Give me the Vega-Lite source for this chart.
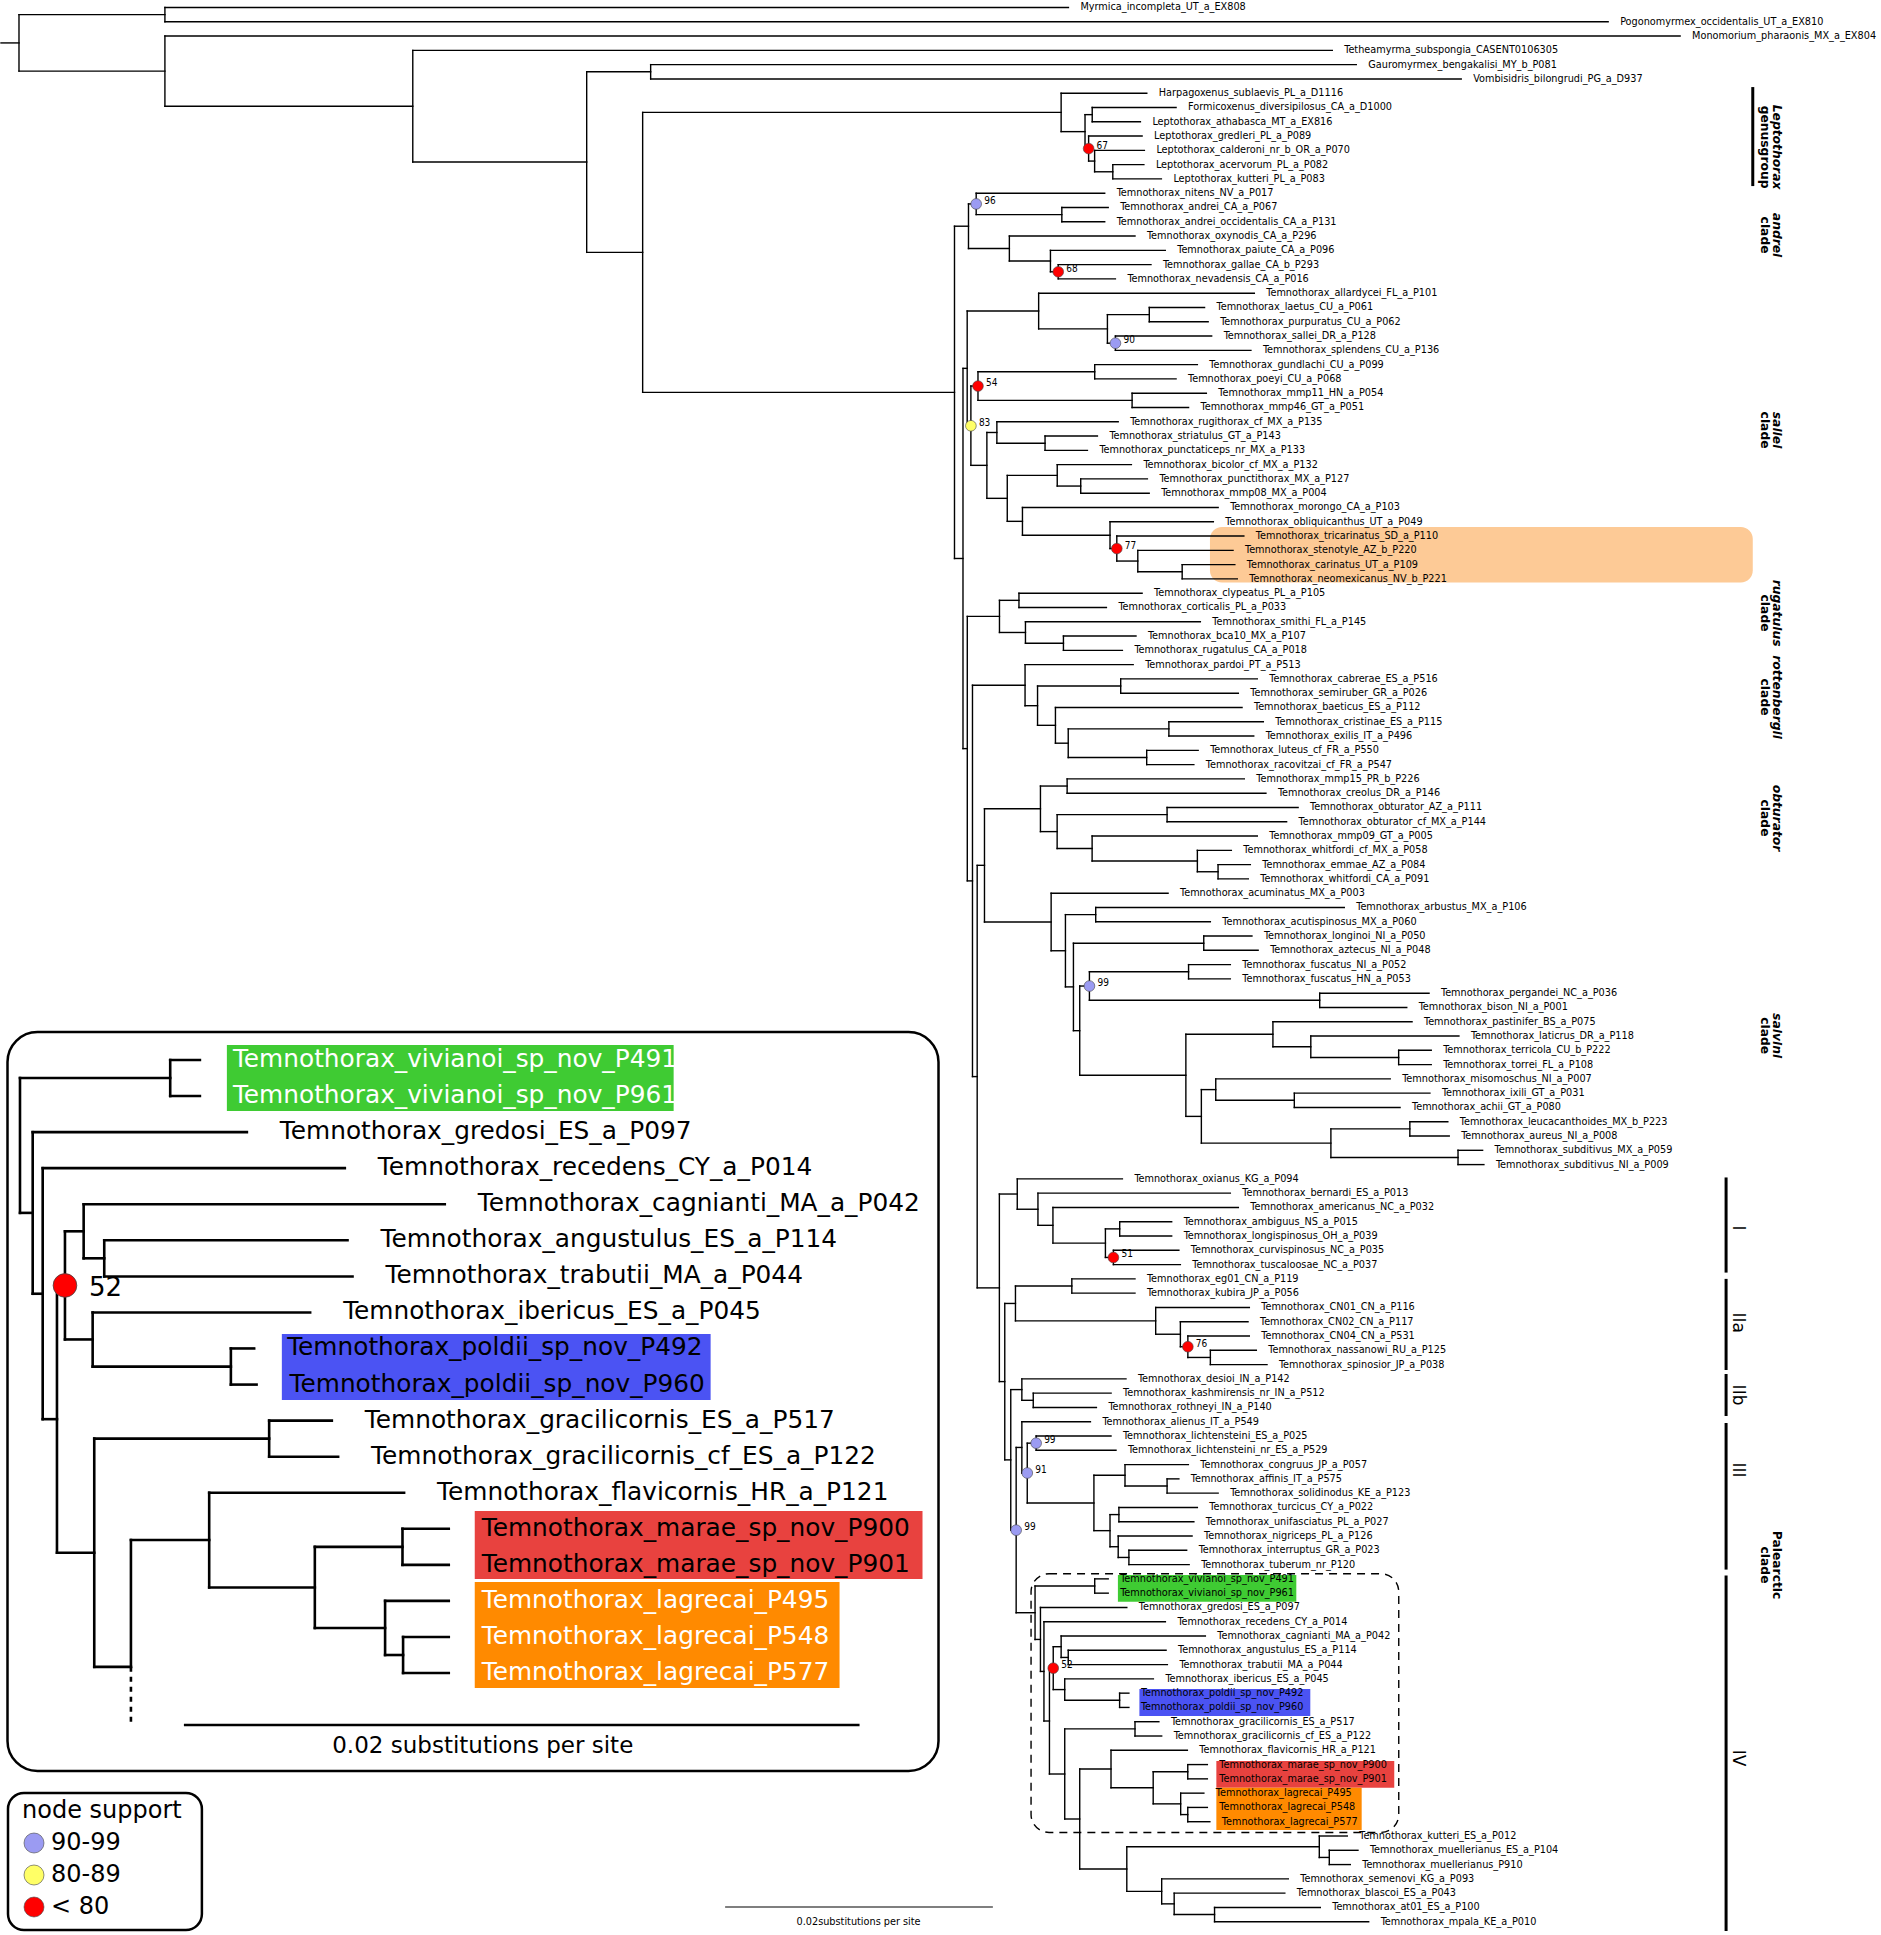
{
"$schema":"https://vega.github.io/schema/vega-lite/v6.json",
"width":1881,"height":1935,
"autosize":{"type":"fit","contains":"padding"},
"padding":0,
"background":"white",
"config":{"view":{"stroke":null}},
"datasets":{
"tree":[
{"x":18,"px":0,"y":2.48,"ya":0.5,"yb":4.455},
{"x":164,"px":18,"y":0.5,"ya":0,"yb":1},
{"x":164,"px":18,"y":4.455,"ya":2,"yb":6.91},
{"x":412,"px":164,"y":6.91,"ya":3,"yb":10.82},
{"x":586,"px":412,"y":10.82,"ya":4.5,"yb":17.14},
{"x":650,"px":586,"y":4.5,"ya":4,"yb":5},
{"x":642,"px":586,"y":17.14,"ya":7.34,"yb":26.94},
{"x":1060.7,"px":642,"y":7.34,"ya":6,"yb":8.69},
{"x":1084.6,"px":1060.7,"y":8.69,"ya":7.5,"yb":9.875},
{"x":1091.8,"px":1084.6,"y":7.5,"ya":7,"yb":8},
{"x":1088.2,"px":1084.6,"y":9.875,"ya":9,"yb":10.75},
{"x":1094.2,"px":1088.2,"y":10.75,"ya":10,"yb":11.5},
{"x":1112.4,"px":1094.2,"y":11.5,"ya":11,"yb":12},
{"x":954,"px":642,"y":26.94,"ya":15.31,"yb":38.57},
{"x":968,"px":954,"y":15.31,"ya":13.75,"yb":16.875},
{"x":975.7,"px":968,"y":13.75,"ya":13,"yb":14.5},
{"x":1061.4,"px":975.7,"y":14.5,"ya":14,"yb":15},
{"x":1008.9,"px":968,"y":16.875,"ya":16,"yb":17.75},
{"x":1050,"px":1008.9,"y":17.75,"ya":17,"yb":18.5},
{"x":1057.8,"px":1050,"y":18.5,"ya":18,"yb":19},
{"x":962.5,"px":954,"y":38.57,"ya":25.26,"yb":51.88},
{"x":966.7,"px":962.5,"y":25.26,"ya":21.25,"yb":29.28},
{"x":1038.2,"px":966.7,"y":21.25,"ya":20,"yb":22.5},
{"x":1107,"px":1038.2,"y":22.5,"ya":21.5,"yb":23.5},
{"x":1148.9,"px":1107,"y":21.5,"ya":21,"yb":22},
{"x":1115,"px":1107,"y":23.5,"ya":23,"yb":24},
{"x":970.4,"px":966.7,"y":29.28,"ya":26.5,"yb":32.05},
{"x":977.5,"px":970.4,"y":26.5,"ya":25.5,"yb":27.5},
{"x":1094.3,"px":977.5,"y":25.5,"ya":25,"yb":26},
{"x":1131.7,"px":977.5,"y":27.5,"ya":27,"yb":28},
{"x":986.4,"px":970.4,"y":32.05,"ya":29.75,"yb":34.36},
{"x":996.4,"px":986.4,"y":29.75,"ya":29,"yb":30.5},
{"x":1044.6,"px":996.4,"y":30.5,"ya":30,"yb":31},
{"x":1006.8,"px":986.4,"y":34.36,"ya":32.75,"yb":35.97},
{"x":1056.8,"px":1006.8,"y":32.75,"ya":32,"yb":33.5},
{"x":1080.3,"px":1056.8,"y":33.5,"ya":33,"yb":34},
{"x":1022,"px":1006.8,"y":35.97,"ya":35,"yb":36.94},
{"x":1109.6,"px":1022,"y":36.94,"ya":36,"yb":37.875},
{"x":1116.4,"px":1109.6,"y":37.875,"ya":37,"yb":38.75},
{"x":1137.4,"px":1116.4,"y":38.75,"ya":38,"yb":39.5},
{"x":1181.8,"px":1137.4,"y":39.5,"ya":39,"yb":40},
{"x":966.8,"px":962.5,"y":51.88,"ya":42.625,"yb":61.14},
{"x":999,"px":966.8,"y":42.625,"ya":41.5,"yb":43.75},
{"x":1018.5,"px":999,"y":41.5,"ya":41,"yb":42},
{"x":1025,"px":999,"y":43.75,"ya":43,"yb":44.5},
{"x":1063,"px":1025,"y":44.5,"ya":44,"yb":45},
{"x":972,"px":966.8,"y":61.14,"ya":47.44,"yb":74.84},
{"x":1024.6,"px":972,"y":47.44,"ya":46,"yb":48.875},
{"x":1037.1,"px":1024.6,"y":48.875,"ya":47.5,"yb":50.25},
{"x":1120.3,"px":1037.1,"y":47.5,"ya":47,"yb":48},
{"x":1055,"px":1037.1,"y":50.25,"ya":49,"yb":51.5},
{"x":1067.8,"px":1055,"y":51.5,"ya":50.5,"yb":52.5},
{"x":1168.5,"px":1067.8,"y":50.5,"ya":50,"yb":51},
{"x":1146.3,"px":1067.8,"y":52.5,"ya":52,"yb":53},
{"x":976.7,"px":972,"y":74.84,"ya":60.05,"yb":89.63},
{"x":984,"px":976.7,"y":60.05,"ya":56.09,"yb":64.02},
{"x":1040,"px":984,"y":56.09,"ya":54.5,"yb":57.69},
{"x":1066.7,"px":1040,"y":54.5,"ya":54,"yb":55},
{"x":1056.7,"px":1040,"y":57.69,"ya":56.5,"yb":58.875},
{"x":1166.7,"px":1056.7,"y":56.5,"ya":56,"yb":57},
{"x":1091.7,"px":1056.7,"y":58.875,"ya":58,"yb":59.75},
{"x":1197,"px":1091.7,"y":59.75,"ya":59,"yb":60.5},
{"x":1217.7,"px":1197,"y":60.5,"ya":60,"yb":61},
{"x":1050.7,"px":984,"y":64.02,"ya":62,"yb":66.03},
{"x":1065,"px":1050.7,"y":66.03,"ya":63.5,"yb":68.56},
{"x":1095.3,"px":1065,"y":63.5,"ya":63,"yb":64},
{"x":1073,"px":1065,"y":68.56,"ya":65.5,"yb":71.625},
{"x":1203.4,"px":1073,"y":65.5,"ya":65,"yb":66},
{"x":1079.3,"px":1073,"y":71.625,"ya":68.5,"yb":74.75},
{"x":1089,"px":1079.3,"y":68.5,"ya":67.5,"yb":69.5},
{"x":1188.2,"px":1089,"y":67.5,"ya":67,"yb":68},
{"x":1319.4,"px":1089,"y":69.5,"ya":69,"yb":70},
{"x":1185.5,"px":1079.3,"y":74.75,"ya":71.875,"yb":77.625},
{"x":1272.6,"px":1185.5,"y":71.875,"ya":71,"yb":72.75},
{"x":1310.5,"px":1272.6,"y":72.75,"ya":72,"yb":73.5},
{"x":1398.4,"px":1310.5,"y":73.5,"ya":73,"yb":74},
{"x":1201,"px":1185.5,"y":77.625,"ya":75.75,"yb":79.5},
{"x":1215.4,"px":1201,"y":75.75,"ya":75,"yb":76.5},
{"x":1294,"px":1215.4,"y":76.5,"ya":76,"yb":77},
{"x":1330.6,"px":1201,"y":79.5,"ya":78.5,"yb":80.5},
{"x":1409.6,"px":1330.6,"y":78.5,"ya":78,"yb":79},
{"x":1457.8,"px":1330.6,"y":80.5,"ya":80,"yb":81},
{"x":998.9,"px":976.7,"y":89.63,"ya":83.06,"yb":96.19},
{"x":1016.8,"px":998.9,"y":83.06,"ya":82,"yb":84.125},
{"x":1037.5,"px":1016.8,"y":84.125,"ya":83,"yb":85.25},
{"x":1052.5,"px":1037.5,"y":85.25,"ya":84,"yb":86.5},
{"x":1105,"px":1052.5,"y":86.5,"ya":85.5,"yb":87.5},
{"x":1119.3,"px":1105,"y":85.5,"ya":85,"yb":86},
{"x":1113,"px":1105,"y":87.5,"ya":87,"yb":88},
{"x":1004.3,"px":998.9,"y":96.19,"ya":90.72,"yb":101.67},
{"x":1015,"px":1004.3,"y":90.72,"ya":89.5,"yb":91.94},
{"x":1071.4,"px":1015,"y":89.5,"ya":89,"yb":90},
{"x":1155.3,"px":1015,"y":91.94,"ya":91,"yb":92.875},
{"x":1180,"px":1155.3,"y":92.875,"ya":92,"yb":93.75},
{"x":1187.5,"px":1180,"y":93.75,"ya":93,"yb":94.5},
{"x":1210,"px":1187.5,"y":94.5,"ya":94,"yb":95},
{"x":1010.3,"px":1004.3,"y":101.67,"ya":96.75,"yb":106.59},
{"x":1021.4,"px":1010.3,"y":96.75,"ya":96,"yb":97.5},
{"x":1032.8,"px":1021.4,"y":97.5,"ya":97,"yb":98},
{"x":1015.7,"px":1010.3,"y":106.59,"ya":100.8,"yb":112.37},
{"x":1021.4,"px":1015.7,"y":100.8,"ya":99,"yb":102.59},
{"x":1026.8,"px":1021.4,"y":102.59,"ya":100.5,"yb":104.69},
{"x":1035.7,"px":1026.8,"y":100.5,"ya":100,"yb":101},
{"x":1093.5,"px":1026.8,"y":104.69,"ya":102.75,"yb":106.625},
{"x":1124.6,"px":1093.5,"y":102.75,"ya":102,"yb":103.5},
{"x":1166.7,"px":1124.6,"y":103.5,"ya":103,"yb":104},
{"x":1109.6,"px":1093.5,"y":106.625,"ya":105.5,"yb":107.75},
{"x":1118.5,"px":1109.6,"y":105.5,"ya":105,"yb":106},
{"x":1117.8,"px":1109.6,"y":107.75,"ya":107,"yb":108.5},
{"x":1128.5,"px":1117.8,"y":108.5,"ya":108,"yb":109},
{"x":1034.6,"px":1015.7,"y":112.37,"ya":110.5,"yb":114.24},
{"x":1094.3,"px":1034.6,"y":110.5,"ya":110,"yb":111},
{"x":1040,"px":1034.6,"y":114.24,"ya":112,"yb":116.48},
{"x":1043.5,"px":1040,"y":116.48,"ya":113,"yb":119.95},
{"x":1049,"px":1043.5,"y":119.95,"ya":116.25,"yb":123.66},
{"x":1052.8,"px":1049,"y":116.25,"ya":114.75,"yb":117.75},
{"x":1060.7,"px":1052.8,"y":114.75,"ya":114,"yb":115.5},
{"x":1067.8,"px":1060.7,"y":115.5,"ya":115,"yb":116},
{"x":1064.3,"px":1052.8,"y":117.75,"ya":117,"yb":118.5},
{"x":1119.2,"px":1064.3,"y":118.5,"ya":118,"yb":119},
{"x":1064.3,"px":1049,"y":123.66,"ya":120.5,"yb":126.81},
{"x":1134.6,"px":1064.3,"y":120.5,"ya":120,"yb":121},
{"x":1079.3,"px":1064.3,"y":126.81,"ya":123.31,"yb":130.31},
{"x":1110.6,"px":1079.3,"y":123.31,"ya":122,"yb":124.625},
{"x":1152.8,"px":1110.6,"y":124.625,"ya":123.5,"yb":125.75},
{"x":1187.4,"px":1152.8,"y":123.5,"ya":123,"yb":124},
{"x":1180.3,"px":1152.8,"y":125.75,"ya":125,"yb":126.5},
{"x":1187.4,"px":1180.3,"y":126.5,"ya":126,"yb":127},
{"x":1126.4,"px":1079.3,"y":130.31,"ya":128.75,"yb":131.875},
{"x":1319,"px":1126.4,"y":128.75,"ya":128,"yb":129.5},
{"x":1329,"px":1319,"y":129.5,"ya":129,"yb":130},
{"x":1161.3,"px":1126.4,"y":131.875,"ya":131,"yb":132.75},
{"x":1173.8,"px":1161.3,"y":132.75,"ya":132,"yb":133.5},
{"x":1214.2,"px":1173.8,"y":133.5,"ya":133,"yb":134},
{"x":1068,"px":164,"y":0,"label":"Myrmica_incompleta_UT_a_EX808"},
{"x":1608,"px":164,"y":1,"label":"Pogonomyrmex_occidentalis_UT_a_EX810"},
{"x":1680,"px":164,"y":2,"label":"Monomorium_pharaonis_MX_a_EX804"},
{"x":1332,"px":412,"y":3,"label":"Tetheamyrma_subspongia_CASENT0106305"},
{"x":1356,"px":650,"y":4,"label":"Gauromyrmex_bengakalisi_MY_b_P081"},
{"x":1461,"px":650,"y":5,"label":"Vombisidris_bilongrudi_PG_a_D937"},
{"x":1146.4,"px":1060.7,"y":6,"label":"Harpagoxenus_sublaevis_PL_a_D1116"},
{"x":1175.7,"px":1091.8,"y":7,"label":"Formicoxenus_diversipilosus_CA_a_D1000"},
{"x":1140,"px":1091.8,"y":8,"label":"Leptothorax_athabasca_MT_a_EX816"},
{"x":1141.7,"px":1088.2,"y":9,"label":"Leptothorax_gredleri_PL_a_P089"},
{"x":1144,"px":1094.2,"y":10,"label":"Leptothorax_calderoni_nr_b_OR_a_P070"},
{"x":1143.5,"px":1112.4,"y":11,"label":"Leptothorax_acervorum_PL_a_P082"},
{"x":1161,"px":1112.4,"y":12,"label":"Leptothorax_kutteri_PL_a_P083"},
{"x":1104.3,"px":975.7,"y":13,"label":"Temnothorax_nitens_NV_a_P017"},
{"x":1107.8,"px":1061.4,"y":14,"label":"Temnothorax_andrei_CA_a_P067"},
{"x":1104.3,"px":1061.4,"y":15,"label":"Temnothorax_andrei_occidentalis_CA_a_P131"},
{"x":1134.6,"px":1008.9,"y":16,"label":"Temnothorax_oxynodis_CA_a_P296"},
{"x":1164.9,"px":1050,"y":17,"label":"Temnothorax_paiute_CA_a_P096"},
{"x":1150.6,"px":1057.8,"y":18,"label":"Temnothorax_gallae_CA_b_P293"},
{"x":1115,"px":1057.8,"y":19,"label":"Temnothorax_nevadensis_CA_a_P016"},
{"x":1254,"px":1038.2,"y":20,"label":"Temnothorax_allardycei_FL_a_P101"},
{"x":1204.2,"px":1148.9,"y":21,"label":"Temnothorax_laetus_CU_a_P061"},
{"x":1207.8,"px":1148.9,"y":22,"label":"Temnothorax_purpuratus_CU_a_P062"},
{"x":1211.3,"px":1115,"y":23,"label":"Temnothorax_sallei_DR_a_P128"},
{"x":1250.6,"px":1115,"y":24,"label":"Temnothorax_splendens_CU_a_P136"},
{"x":1197,"px":1094.3,"y":25,"label":"Temnothorax_gundlachi_CU_a_P099"},
{"x":1175.7,"px":1094.3,"y":26,"label":"Temnothorax_poeyi_CU_a_P068"},
{"x":1206,"px":1131.7,"y":27,"label":"Temnothorax_mmp11_HN_a_P054"},
{"x":1188.2,"px":1131.7,"y":28,"label":"Temnothorax_mmp46_GT_a_P051"},
{"x":1117.8,"px":996.4,"y":29,"label":"Temnothorax_rugithorax_cf_MX_a_P135"},
{"x":1097,"px":1044.6,"y":30,"label":"Temnothorax_striatulus_GT_a_P143"},
{"x":1087,"px":1044.6,"y":31,"label":"Temnothorax_punctaticeps_nr_MX_a_P133"},
{"x":1131,"px":1056.8,"y":32,"label":"Temnothorax_bicolor_cf_MX_a_P132"},
{"x":1147,"px":1080.3,"y":33,"label":"Temnothorax_punctithorax_MX_a_P127"},
{"x":1148.8,"px":1080.3,"y":34,"label":"Temnothorax_mmp08_MX_a_P004"},
{"x":1217.8,"px":1022,"y":35,"label":"Temnothorax_morongo_CA_a_P103"},
{"x":1213,"px":1109.6,"y":36,"label":"Temnothorax_obliquicanthus_UT_a_P049"},
{"x":1243.5,"px":1116.4,"y":37,"label":"Temnothorax_tricarinatus_SD_a_P110"},
{"x":1232.7,"px":1137.4,"y":38,"label":"Temnothorax_stenotyle_AZ_b_P220"},
{"x":1234.5,"px":1181.8,"y":39,"label":"Temnothorax_carinatus_UT_a_P109"},
{"x":1237,"px":1181.8,"y":40,"label":"Temnothorax_neomexicanus_NV_b_P221"},
{"x":1141.7,"px":1018.5,"y":41,"label":"Temnothorax_clypeatus_PL_a_P105"},
{"x":1106,"px":1018.5,"y":42,"label":"Temnothorax_corticalis_PL_a_P033"},
{"x":1200,"px":1025,"y":43,"label":"Temnothorax_smithi_FL_a_P145"},
{"x":1135.6,"px":1063,"y":44,"label":"Temnothorax_bca10_MX_a_P107"},
{"x":1122,"px":1063,"y":45,"label":"Temnothorax_rugatulus_CA_a_P018"},
{"x":1132.8,"px":1024.6,"y":46,"label":"Temnothorax_pardoi_PT_a_P513"},
{"x":1257,"px":1120.3,"y":47,"label":"Temnothorax_cabrerae_ES_a_P516"},
{"x":1238,"px":1120.3,"y":48,"label":"Temnothorax_semiruber_GR_a_P026"},
{"x":1241.7,"px":1055,"y":49,"label":"Temnothorax_baeticus_ES_a_P112"},
{"x":1263,"px":1168.5,"y":50,"label":"Temnothorax_cristinae_ES_a_P115"},
{"x":1253.4,"px":1168.5,"y":51,"label":"Temnothorax_exilis_IT_a_P496"},
{"x":1197.8,"px":1146.3,"y":52,"label":"Temnothorax_luteus_cf_FR_a_P550"},
{"x":1193.5,"px":1146.3,"y":53,"label":"Temnothorax_racovitzai_cf_FR_a_P547"},
{"x":1244,"px":1066.7,"y":54,"label":"Temnothorax_mmp15_PR_b_P226"},
{"x":1265.6,"px":1066.7,"y":55,"label":"Temnothorax_creolus_DR_a_P146"},
{"x":1297.8,"px":1166.7,"y":56,"label":"Temnothorax_obturator_AZ_a_P111"},
{"x":1286.3,"px":1166.7,"y":57,"label":"Temnothorax_obturator_cf_MX_a_P144"},
{"x":1257,"px":1091.7,"y":58,"label":"Temnothorax_mmp09_GT_a_P005"},
{"x":1231,"px":1197,"y":59,"label":"Temnothorax_whitfordi_cf_MX_a_P058"},
{"x":1250,"px":1217.7,"y":60,"label":"Temnothorax_emmae_AZ_a_P084"},
{"x":1248,"px":1217.7,"y":61,"label":"Temnothorax_whitfordi_CA_a_P091"},
{"x":1167.7,"px":1050.7,"y":62,"label":"Temnothorax_acuminatus_MX_a_P003"},
{"x":1344,"px":1095.3,"y":63,"label":"Temnothorax_arbustus_MX_a_P106"},
{"x":1210,"px":1095.3,"y":64,"label":"Temnothorax_acutispinosus_MX_a_P060"},
{"x":1251.6,"px":1203.4,"y":65,"label":"Temnothorax_longinoi_NI_a_P050"},
{"x":1257.8,"px":1203.4,"y":66,"label":"Temnothorax_aztecus_NI_a_P048"},
{"x":1230,"px":1188.2,"y":67,"label":"Temnothorax_fuscatus_NI_a_P052"},
{"x":1230,"px":1188.2,"y":68,"label":"Temnothorax_fuscatus_HN_a_P053"},
{"x":1428.8,"px":1319.4,"y":69,"label":"Temnothorax_pergandei_NC_a_P036"},
{"x":1406.5,"px":1319.4,"y":70,"label":"Temnothorax_bison_NI_a_P001"},
{"x":1411.8,"px":1272.6,"y":71,"label":"Temnothorax_pastinifer_BS_a_P075"},
{"x":1458.7,"px":1310.5,"y":72,"label":"Temnothorax_laticrus_DR_a_P118"},
{"x":1431,"px":1398.4,"y":73,"label":"Temnothorax_terricola_CU_b_P222"},
{"x":1431,"px":1398.4,"y":74,"label":"Temnothorax_torrei_FL_a_P108"},
{"x":1390,"px":1215.4,"y":75,"label":"Temnothorax_misomoschus_NI_a_P007"},
{"x":1429.7,"px":1294,"y":76,"label":"Temnothorax_ixili_GT_a_P031"},
{"x":1399.8,"px":1294,"y":77,"label":"Temnothorax_achii_GT_a_P080"},
{"x":1447.6,"px":1409.6,"y":78,"label":"Temnothorax_leucacanthoides_MX_b_P223"},
{"x":1449,"px":1409.6,"y":79,"label":"Temnothorax_aureus_NI_a_P008"},
{"x":1482.4,"px":1457.8,"y":80,"label":"Temnothorax_subditivus_MX_a_P059"},
{"x":1483.7,"px":1457.8,"y":81,"label":"Temnothorax_subditivus_NI_a_P009"},
{"x":1122,"px":1016.8,"y":82,"label":"Temnothorax_oxianus_KG_a_P094"},
{"x":1230,"px":1037.5,"y":83,"label":"Temnothorax_bernardi_ES_a_P013"},
{"x":1238,"px":1052.5,"y":84,"label":"Temnothorax_americanus_NC_a_P032"},
{"x":1171.3,"px":1119.3,"y":85,"label":"Temnothorax_ambiguus_NS_a_P015"},
{"x":1171.3,"px":1119.3,"y":86,"label":"Temnothorax_longispinosus_OH_a_P039"},
{"x":1178.5,"px":1113,"y":87,"label":"Temnothorax_curvispinosus_NC_a_P035"},
{"x":1180,"px":1113,"y":88,"label":"Temnothorax_tuscaloosae_NC_a_P037"},
{"x":1134.6,"px":1071.4,"y":89,"label":"Temnothorax_eg01_CN_a_P119"},
{"x":1134.6,"px":1071.4,"y":90,"label":"Temnothorax_kubira_JP_a_P056"},
{"x":1249,"px":1155.3,"y":91,"label":"Temnothorax_CN01_CN_a_P116"},
{"x":1247.7,"px":1180,"y":92,"label":"Temnothorax_CN02_CN_a_P117"},
{"x":1249,"px":1187.5,"y":93,"label":"Temnothorax_CN04_CN_a_P531"},
{"x":1256,"px":1210,"y":94,"label":"Temnothorax_nassanowi_RU_a_P125"},
{"x":1266.7,"px":1210,"y":95,"label":"Temnothorax_spinosior_JP_a_P038"},
{"x":1125.6,"px":1021.4,"y":96,"label":"Temnothorax_desioi_IN_a_P142"},
{"x":1110.7,"px":1032.8,"y":97,"label":"Temnothorax_kashmirensis_nr_IN_a_P512"},
{"x":1096,"px":1032.8,"y":98,"label":"Temnothorax_rothneyi_IN_a_P140"},
{"x":1090,"px":1021.4,"y":99,"label":"Temnothorax_alienus_IT_a_P549"},
{"x":1110.6,"px":1035.7,"y":100,"label":"Temnothorax_lichtensteini_ES_a_P025"},
{"x":1115.6,"px":1035.7,"y":101,"label":"Temnothorax_lichtensteini_nr_ES_a_P529"},
{"x":1188,"px":1124.6,"y":102,"label":"Temnothorax_congruus_JP_a_P057"},
{"x":1178.5,"px":1166.7,"y":103,"label":"Temnothorax_affinis_IT_a_P575"},
{"x":1217.8,"px":1166.7,"y":104,"label":"Temnothorax_solidinodus_KE_a_P123"},
{"x":1197,"px":1118.5,"y":105,"label":"Temnothorax_turcicus_CY_a_P022"},
{"x":1193.5,"px":1118.5,"y":106,"label":"Temnothorax_unifasciatus_PL_a_P027"},
{"x":1191.7,"px":1117.8,"y":107,"label":"Temnothorax_nigriceps_PL_a_P126"},
{"x":1186.3,"px":1128.5,"y":108,"label":"Temnothorax_interruptus_GR_a_P023"},
{"x":1188.8,"px":1128.5,"y":109,"label":"Temnothorax_tuberum_nr_P120"},
{"x":1107.8,"px":1094.3,"y":110,"label":"Temnothorax_vivianoi_sp_nov_P491"},
{"x":1107.8,"px":1094.3,"y":111,"label":"Temnothorax_vivianoi_sp_nov_P961"},
{"x":1126.4,"px":1040,"y":112,"label":"Temnothorax_gredosi_ES_a_P097"},
{"x":1165,"px":1043.5,"y":113,"label":"Temnothorax_recedens_CY_a_P014"},
{"x":1205,"px":1060.7,"y":114,"label":"Temnothorax_cagnianti_MA_a_P042"},
{"x":1165.7,"px":1067.8,"y":115,"label":"Temnothorax_angustulus_ES_a_P114"},
{"x":1167,"px":1067.8,"y":116,"label":"Temnothorax_trabutii_MA_a_P044"},
{"x":1153,"px":1064.3,"y":117,"label":"Temnothorax_ibericus_ES_a_P045"},
{"x":1128.5,"px":1119.2,"y":118,"label":"Temnothorax_poldii_sp_nov_P492"},
{"x":1128.5,"px":1119.2,"y":119,"label":"Temnothorax_poldii_sp_nov_P960"},
{"x":1158.5,"px":1134.6,"y":120,"label":"Temnothorax_gracilicornis_ES_a_P517"},
{"x":1161.3,"px":1134.6,"y":121,"label":"Temnothorax_gracilicornis_cf_ES_a_P122"},
{"x":1187,"px":1110.6,"y":122,"label":"Temnothorax_flavicornis_HR_a_P121"},
{"x":1207,"px":1187.4,"y":123,"label":"Temnothorax_marae_sp_nov_P900"},
{"x":1207,"px":1187.4,"y":124,"label":"Temnothorax_marae_sp_nov_P901"},
{"x":1203.5,"px":1180.3,"y":125,"label":"Temnothorax_lagrecai_P495"},
{"x":1207,"px":1187.4,"y":126,"label":"Temnothorax_lagrecai_P548"},
{"x":1209.5,"px":1187.4,"y":127,"label":"Temnothorax_lagrecai_P577"},
{"x":1347,"px":1319,"y":128,"label":"Temnothorax_kutteri_ES_a_P012"},
{"x":1357.7,"px":1329,"y":129,"label":"Temnothorax_muellerianus_ES_a_P104"},
{"x":1350,"px":1329,"y":130,"label":"Temnothorax_muellerianus_P910"},
{"x":1288,"px":1161.3,"y":131,"label":"Temnothorax_semenovi_KG_a_P093"},
{"x":1284.5,"px":1173.8,"y":132,"label":"Temnothorax_blascoi_ES_a_P043"},
{"x":1320,"px":1214.2,"y":133,"label":"Temnothorax_at01_ES_a_P100"},
{"x":1368.4,"px":1214.2,"y":134,"label":"Temnothorax_mpala_KE_a_P010"}
],
"inset":[
{"x":19,"y":79.66,"ya":74.94,"yb":84.38},
{"x":169.3,"px":19,"y":74.94,"ya":73.68,"yb":76.2},
{"x":31.7,"px":19,"y":84.38,"ya":78.73,"yb":90.04},
{"x":41.7,"px":31.7,"y":90.04,"ya":81.25,"yb":98.82},
{"x":56,"px":41.7,"y":98.82,"ya":89.46,"yb":108.17},
{"x":64,"px":56,"y":89.46,"ya":85.67,"yb":93.24},
{"x":82.7,"px":64,"y":85.67,"ya":83.78,"yb":87.56},
{"x":103.3,"px":82.7,"y":87.56,"ya":86.3,"yb":88.83},
{"x":91.7,"px":64,"y":93.24,"ya":91.35,"yb":95.14},
{"x":230,"px":91.7,"y":95.14,"ya":93.87,"yb":96.4},
{"x":93.3,"px":56,"y":108.17,"ya":100.18,"yb":116.16},
{"x":268.3,"px":93.3,"y":100.18,"ya":98.92,"yb":101.45},
{"x":130,"px":93.3,"y":116.16,"ya":107.28,"yb":116.16},
{"x":208.3,"px":130,"y":107.28,"ya":103.97,"yb":110.6},
{"x":314,"px":208.3,"y":110.6,"ya":107.76,"yb":113.44},
{"x":401.7,"px":314,"y":107.76,"ya":106.49,"yb":109.02},
{"x":384.3,"px":314,"y":113.44,"ya":111.54,"yb":115.33},
{"x":402.3,"px":384.3,"y":115.33,"ya":114.07,"yb":116.59},
{"x":199,"px":169.3,"y":73.68,"label":"Temnothorax_vivianoi_sp_nov_P491","hl":"vivianoi"},
{"x":199,"px":169.3,"y":76.2,"label":"Temnothorax_vivianoi_sp_nov_P961","hl":"vivianoi"},
{"x":246,"px":31.7,"y":78.73,"label":"Temnothorax_gredosi_ES_a_P097"},
{"x":344,"px":41.7,"y":81.25,"label":"Temnothorax_recedens_CY_a_P014"},
{"x":444,"px":82.7,"y":83.78,"label":"Temnothorax_cagnianti_MA_a_P042"},
{"x":346.7,"px":103.3,"y":86.3,"label":"Temnothorax_angustulus_ES_a_P114"},
{"x":351.7,"px":103.3,"y":88.83,"label":"Temnothorax_trabutii_MA_a_P044"},
{"x":309.3,"px":91.7,"y":91.35,"label":"Temnothorax_ibericus_ES_a_P045"},
{"x":253.3,"px":230,"y":93.87,"label":"Temnothorax_poldii_sp_nov_P492","hl":"poldii"},
{"x":255.7,"px":230,"y":96.4,"label":"Temnothorax_poldii_sp_nov_P960","hl":"poldii"},
{"x":331,"px":268.3,"y":98.92,"label":"Temnothorax_gracilicornis_ES_a_P517"},
{"x":337.3,"px":268.3,"y":101.45,"label":"Temnothorax_gracilicornis_cf_ES_a_P122"},
{"x":403.3,"px":208.3,"y":103.97,"label":"Temnothorax_flavicornis_HR_a_P121"},
{"x":448,"px":401.7,"y":106.49,"label":"Temnothorax_marae_sp_nov_P900","hl":"marae"},
{"x":448,"px":401.7,"y":109.02,"label":"Temnothorax_marae_sp_nov_P901","hl":"marae"},
{"x":448,"px":384.3,"y":111.54,"label":"Temnothorax_lagrecai_P495","hl":"lagrecai"},
{"x":448,"px":402.3,"y":114.07,"label":"Temnothorax_lagrecai_P548","hl":"lagrecai"},
{"x":448,"px":402.3,"y":116.59,"label":"Temnothorax_lagrecai_P577","hl":"lagrecai"}
],
"support":[
{"x":1088.2,"y":9.875,"s":67,"cls":"< 80"},
{"x":975.7,"y":13.75,"s":96,"cls":"90-99"},
{"x":1057.8,"y":18.5,"s":68,"cls":"< 80"},
{"x":1115,"y":23.5,"s":90,"cls":"90-99"},
{"x":977.5,"y":26.5,"s":54,"cls":"< 80"},
{"x":970.4,"y":29.28,"s":83,"cls":"80-89"},
{"x":1116.4,"y":37.875,"s":77,"cls":"< 80"},
{"x":1089,"y":68.5,"s":99,"cls":"90-99"},
{"x":1113,"y":87.5,"s":51,"cls":"< 80"},
{"x":1187.5,"y":93.75,"s":76,"cls":"< 80"},
{"x":1035.7,"y":100.5,"s":99,"cls":"90-99"},
{"x":1026.8,"y":102.59,"s":91,"cls":"90-99"},
{"x":1015.7,"y":106.59,"s":99,"cls":"90-99"},
{"x":1052.8,"y":116.25,"s":52,"cls":"< 80"}
],
"boxes":[
{"hl":"vivianoi","x":1117.5,"x2":1296,"y":109.73,"y2":111.6},
{"hl":"poldii","x":1139,"x2":1310,"y":117.71,"y2":119.6},
{"hl":"marae","x":1216,"x2":1394,"y":122.75,"y2":124.62},
{"hl":"lagrecai","x":1216,"x2":1361.4,"y":124.62,"y2":127.58},
{"hl":"vivianoi","x":226,"x2":673,"y":72.63,"y2":77.25},
{"hl":"poldii","x":281,"x2":710,"y":92.86,"y2":97.48},
{"hl":"marae","x":474,"x2":922,"y":105.25,"y2":110.01},
{"hl":"lagrecai","x":474,"x2":839,"y":110.22,"y2":117.64}
],
"clades":[
{"l1":"Leptothorax","l2":"genusgroup","y":9.77},
{"l1":"andrei","l2":"clade","y":15.93},
{"l1":"sallei","l2":"clade","y":29.58},
{"l1":"rugatulus","l2":"clade","y":42.39},
{"l1":"rottenbergii","l2":"clade","y":48.27},
{"l1":"obturator","l2":"clade","y":56.74},
{"l1":"salvini","l2":"clade","y":71.97},
{"l1":"Palearctic","l2":"clade","y":109.03}
],
"roman":[
{"g":"I","y":85.44,"ya":81.9,"yb":88.56},
{"g":"IIa","y":92.07,"ya":89.0,"yb":95.38},
{"g":"IIb","y":97.13,"ya":95.66,"yb":98.6},
{"g":"III","y":102.38,"ya":99.09,"yb":109.35},
{"g":"IV","y":122.54,"ya":109.76,"yb":134.65}
]
},
"layer":[
{"data":{"values":[{"x":1209.6,"x2":1752.7,"y":36.37,"y2":40.26}]},
 "mark":{"type":"rect","fill":"#fdca96","cornerRadius":12},
 "encoding":{"x":{"field":"x","type":"quantitative","scale":{"domain":[0,1881],"nice":false,"zero":false},"axis":null},"x2":{"field":"x2"},
  "y":{"field":"y","type":"quantitative","scale":{"domain":[-0.525,134.93],"reverse":true,"nice":false,"zero":false},"axis":null},"y2":{"field":"y2"}}},
{"data":{"values":[{"x":6.5,"x2":938,"y":71.72,"y2":123.45}]},
 "mark":{"type":"rect","fill":"white","stroke":"black","strokeWidth":2.5,"cornerRadius":30},
 "encoding":{"x":{"field":"x","type":"quantitative","scale":{"domain":[0,1881],"nice":false,"zero":false},"axis":null},"x2":{"field":"x2"},
  "y":{"field":"y","type":"quantitative","scale":{"domain":[-0.525,134.93],"reverse":true,"nice":false,"zero":false},"axis":null},"y2":{"field":"y2"}}},
{"data":{"values":[{"x":7,"x2":201,"y":124.99,"y2":134.58}]},
 "mark":{"type":"rect","fill":"white","stroke":"black","strokeWidth":2.5,"cornerRadius":16},
 "encoding":{"x":{"field":"x","type":"quantitative","scale":{"domain":[0,1881],"nice":false,"zero":false},"axis":null},"x2":{"field":"x2"},
  "y":{"field":"y","type":"quantitative","scale":{"domain":[-0.525,134.93],"reverse":true,"nice":false,"zero":false},"axis":null},"y2":{"field":"y2"}}},
{"data":{"values":[{"x":1030.6,"x2":1398.5,"y":109.64,"y2":127.75}]},
 "mark":{"type":"rect","fillOpacity":0,"stroke":"black","strokeWidth":1.4,"strokeDash":[8,6],"cornerRadius":18},
 "encoding":{"x":{"field":"x","type":"quantitative","scale":{"domain":[0,1881],"nice":false,"zero":false},"axis":null},"x2":{"field":"x2"},
  "y":{"field":"y","type":"quantitative","scale":{"domain":[-0.525,134.93],"reverse":true,"nice":false,"zero":false},"axis":null},"y2":{"field":"y2"}}},
{"data":{"name":"boxes"},
 "mark":{"type":"rect"},
 "encoding":{"x":{"field":"x","type":"quantitative","scale":{"domain":[0,1881],"nice":false,"zero":false},"axis":null},"x2":{"field":"x2"},
  "y":{"field":"y","type":"quantitative","scale":{"domain":[-0.525,134.93],"reverse":true,"nice":false,"zero":false},"axis":null},"y2":{"field":"y2"},
  "fill":{"field":"hl","type":"nominal","scale":{"domain":["vivianoi","poldii","marae","lagrecai"],"range":["#3fcb33","#4b53f3","#e8423f","#ff8a00"]},"legend":null}}},
{"data":{"name":"tree"},"transform":[{"filter":"isValid(datum.px)"}],
 "mark":{"type":"rule","color":"black","strokeWidth":1.4,"strokeCap":"square"},
 "encoding":{"x":{"field":"px","type":"quantitative","scale":{"domain":[0,1881],"nice":false,"zero":false},"axis":null},"x2":{"field":"x"},
  "y":{"field":"y","type":"quantitative","scale":{"domain":[-0.525,134.93],"reverse":true,"nice":false,"zero":false},"axis":null}}},
{"data":{"name":"tree"},"transform":[{"filter":"isValid(datum.ya)"}],
 "mark":{"type":"rule","color":"black","strokeWidth":1.4,"strokeCap":"square"},
 "encoding":{"x":{"field":"x","type":"quantitative","scale":{"domain":[0,1881],"nice":false,"zero":false},"axis":null},
  "y":{"field":"ya","type":"quantitative","scale":{"domain":[-0.525,134.93],"reverse":true,"nice":false,"zero":false},"axis":null},"y2":{"field":"yb"}}},
{"data":{"name":"inset"},"transform":[{"filter":"isValid(datum.px)"}],
 "mark":{"type":"rule","color":"black","strokeWidth":2.6,"strokeCap":"square"},
 "encoding":{"x":{"field":"px","type":"quantitative","scale":{"domain":[0,1881],"nice":false,"zero":false},"axis":null},"x2":{"field":"x"},
  "y":{"field":"y","type":"quantitative","scale":{"domain":[-0.525,134.93],"reverse":true,"nice":false,"zero":false},"axis":null}}},
{"data":{"name":"inset"},"transform":[{"filter":"isValid(datum.ya)"}],
 "mark":{"type":"rule","color":"black","strokeWidth":2.6,"strokeCap":"square"},
 "encoding":{"x":{"field":"x","type":"quantitative","scale":{"domain":[0,1881],"nice":false,"zero":false},"axis":null},
  "y":{"field":"ya","type":"quantitative","scale":{"domain":[-0.525,134.93],"reverse":true,"nice":false,"zero":false},"axis":null},"y2":{"field":"yb"}}},
{"data":{"values":[{"x":130,"ya":116.16,"yb":120.16}]},
 "mark":{"type":"rule","color":"black","strokeWidth":2.6,"strokeDash":[5,5]},
 "encoding":{"x":{"field":"x","type":"quantitative","scale":{"domain":[0,1881],"nice":false,"zero":false},"axis":null},
  "y":{"field":"ya","type":"quantitative","scale":{"domain":[-0.525,134.93],"reverse":true,"nice":false,"zero":false},"axis":null},"y2":{"field":"yb"}}},
{"data":{"values":[{"ya":5.57,"yb":12.5}]},
 "mark":{"type":"rule","color":"black","strokeWidth":3},
 "encoding":{"x":{"datum":1752.7,"type":"quantitative","scale":{"domain":[0,1881],"nice":false,"zero":false},"axis":null},
  "y":{"field":"ya","type":"quantitative","scale":{"domain":[-0.525,134.93],"reverse":true,"nice":false,"zero":false},"axis":null},"y2":{"field":"yb"}}},
{"data":{"name":"roman"},
 "mark":{"type":"rule","color":"black","strokeWidth":3},
 "encoding":{"x":{"datum":1726,"type":"quantitative","scale":{"domain":[0,1881],"nice":false,"zero":false},"axis":null},
  "y":{"field":"ya","type":"quantitative","scale":{"domain":[-0.525,134.93],"reverse":true,"nice":false,"zero":false},"axis":null},"y2":{"field":"yb"}}},
{"data":{"values":[{"x":724.5,"x2":992.4,"y":132.97}]},
 "mark":{"type":"rule","color":"black","strokeWidth":1.2},
 "encoding":{"x":{"field":"x","type":"quantitative","scale":{"domain":[0,1881],"nice":false,"zero":false},"axis":null},"x2":{"field":"x2"},
  "y":{"field":"y","type":"quantitative","scale":{"domain":[-0.525,134.93],"reverse":true,"nice":false,"zero":false},"axis":null}}},
{"data":{"values":[{"x":183,"x2":859,"y":120.23}]},
 "mark":{"type":"rule","color":"black","strokeWidth":2.6},
 "encoding":{"x":{"field":"x","type":"quantitative","scale":{"domain":[0,1881],"nice":false,"zero":false},"axis":null},"x2":{"field":"x2"},
  "y":{"field":"y","type":"quantitative","scale":{"domain":[-0.525,134.93],"reverse":true,"nice":false,"zero":false},"axis":null}}},
{"data":{"name":"tree"},"transform":[{"filter":"isValid(datum.label)"}],
 "mark":{"type":"text","align":"left","baseline":"middle","dx":12,"font":"DejaVu Sans Condensed","fontSize":10.8,"color":"black"},
 "encoding":{"x":{"field":"x","type":"quantitative","scale":{"domain":[0,1881],"nice":false,"zero":false},"axis":null},
  "y":{"field":"y","type":"quantitative","scale":{"domain":[-0.525,134.93],"reverse":true,"nice":false,"zero":false},"axis":null},
  "text":{"field":"label"}}},
{"data":{"name":"inset"},"transform":[{"filter":"isValid(datum.label)"}],
 "mark":{"type":"text","align":"left","baseline":"middle","dx":33,"font":"DejaVu Sans","fontSize":24.8},
 "encoding":{"x":{"field":"x","type":"quantitative","scale":{"domain":[0,1881],"nice":false,"zero":false},"axis":null},
  "y":{"field":"y","type":"quantitative","scale":{"domain":[-0.525,134.93],"reverse":true,"nice":false,"zero":false},"axis":null},
  "text":{"field":"label"},
  "color":{"condition":{"test":"datum.hl === 'vivianoi' || datum.hl === 'lagrecai'","value":"white"},"value":"black"}}},
{"data":{"name":"support"},
 "mark":{"type":"text","align":"left","baseline":"middle","dx":8,"dy":-3,"font":"DejaVu Sans Condensed","fontSize":10,"color":"black"},
 "encoding":{"x":{"field":"x","type":"quantitative","scale":{"domain":[0,1881],"nice":false,"zero":false},"axis":null},
  "y":{"field":"y","type":"quantitative","scale":{"domain":[-0.525,134.93],"reverse":true,"nice":false,"zero":false},"axis":null},
  "text":{"field":"s"}}},
{"data":{"values":[{"x":64,"y":89.46,"s":52,"cls":"< 80"}]},
 "mark":{"type":"text","align":"left","baseline":"middle","dx":24,"dy":3,"font":"DejaVu Sans","fontSize":26,"color":"black"},
 "encoding":{"x":{"field":"x","type":"quantitative","scale":{"domain":[0,1881],"nice":false,"zero":false},"axis":null},
  "y":{"field":"y","type":"quantitative","scale":{"domain":[-0.525,134.93],"reverse":true,"nice":false,"zero":false},"axis":null},
  "text":{"field":"s"}}},
{"data":{"name":"support"},
 "mark":{"type":"point","filled":true,"opacity":1,"size":115,"stroke":"#444","strokeWidth":0.6},
 "encoding":{"x":{"field":"x","type":"quantitative","scale":{"domain":[0,1881],"nice":false,"zero":false},"axis":null},
  "y":{"field":"y","type":"quantitative","scale":{"domain":[-0.525,134.93],"reverse":true,"nice":false,"zero":false},"axis":null},
  "color":{"field":"cls","type":"nominal","scale":{"domain":["90-99","80-89","< 80"],"range":["#9b9bf2","#ffff66","#ff0000"]},
   "legend":{"orient":"none","legendX":8,"legendY":1786,"padding":13,"title":"node support","titleFont":"DejaVu Sans","titleFontSize":24,"titleFontWeight":"normal","titleColor":"black","titlePadding":8,"labelFont":"DejaVu Sans","labelFontSize":24,"labelColor":"black","symbolType":"circle","symbolSize":400,"symbolStrokeColor":"#444","symbolStrokeWidth":0.6,"rowPadding":8,"labelOffset":5}}}},
{"data":{"values":[{"x":64,"y":89.46,"s":52,"cls":"< 80"}]},
 "mark":{"type":"point","filled":true,"opacity":1,"size":560,"stroke":"#444","strokeWidth":0.8},
 "encoding":{"x":{"field":"x","type":"quantitative","scale":{"domain":[0,1881],"nice":false,"zero":false},"axis":null},
  "y":{"field":"y","type":"quantitative","scale":{"domain":[-0.525,134.93],"reverse":true,"nice":false,"zero":false},"axis":null},
  "color":{"field":"cls","type":"nominal","scale":{"domain":["90-99","80-89","< 80"],"range":["#9b9bf2","#ffff66","#ff0000"]}}}},
{"data":{"name":"clades"},"transform":[{"filter":"datum.l1 !== 'Palearctic'"}],
 "mark":{"type":"text","angle":90,"align":"center","baseline":"middle","font":"DejaVu Sans","fontSize":12.3,"fontWeight":"bold","fontStyle":"italic","color":"black"},
 "encoding":{"x":{"datum":1776.7,"type":"quantitative","scale":{"domain":[0,1881],"nice":false,"zero":false},"axis":null},
  "y":{"field":"y","type":"quantitative","scale":{"domain":[-0.525,134.93],"reverse":true,"nice":false,"zero":false},"axis":null},
  "text":{"field":"l1"}}},
{"data":{"name":"clades"},"transform":[{"filter":"datum.l1 === 'Palearctic'"}],
 "mark":{"type":"text","angle":90,"align":"center","baseline":"middle","font":"DejaVu Sans","fontSize":12.3,"fontWeight":"bold","color":"black"},
 "encoding":{"x":{"datum":1776.7,"type":"quantitative","scale":{"domain":[0,1881],"nice":false,"zero":false},"axis":null},
  "y":{"field":"y","type":"quantitative","scale":{"domain":[-0.525,134.93],"reverse":true,"nice":false,"zero":false},"axis":null},
  "text":{"field":"l1"}}},
{"data":{"name":"clades"},
 "mark":{"type":"text","angle":90,"align":"center","baseline":"middle","font":"DejaVu Sans","fontSize":12.3,"fontWeight":"bold","color":"black"},
 "encoding":{"x":{"datum":1765,"type":"quantitative","scale":{"domain":[0,1881],"nice":false,"zero":false},"axis":null},
  "y":{"field":"y","type":"quantitative","scale":{"domain":[-0.525,134.93],"reverse":true,"nice":false,"zero":false},"axis":null},
  "text":{"field":"l2"}}},
{"data":{"name":"roman"},
 "mark":{"type":"text","angle":90,"align":"center","baseline":"middle","font":"DejaVu Sans","fontSize":17,"color":"black"},
 "encoding":{"x":{"datum":1738,"type":"quantitative","scale":{"domain":[0,1881],"nice":false,"zero":false},"axis":null},
  "y":{"field":"y","type":"quantitative","scale":{"domain":[-0.525,134.93],"reverse":true,"nice":false,"zero":false},"axis":null},
  "text":{"field":"g"}}},
{"data":{"values":[{"x":858,"y":134.02,"t":"0.02substitutions per site"}]},
 "mark":{"type":"text","align":"center","baseline":"middle","font":"DejaVu Sans Condensed","fontSize":10.8,"color":"black"},
 "encoding":{"x":{"field":"x","type":"quantitative","scale":{"domain":[0,1881],"nice":false,"zero":false},"axis":null},
  "y":{"field":"y","type":"quantitative","scale":{"domain":[-0.525,134.93],"reverse":true,"nice":false,"zero":false},"axis":null},
  "text":{"field":"t"}}},
{"data":{"values":[{"x":482,"y":121.7,"t":"0.02 substitutions per site"}]},
 "mark":{"type":"text","align":"center","baseline":"middle","font":"DejaVu Sans","fontSize":23,"color":"black"},
 "encoding":{"x":{"field":"x","type":"quantitative","scale":{"domain":[0,1881],"nice":false,"zero":false},"axis":null},
  "y":{"field":"y","type":"quantitative","scale":{"domain":[-0.525,134.93],"reverse":true,"nice":false,"zero":false},"axis":null},
  "text":{"field":"t"}}}
]
}
